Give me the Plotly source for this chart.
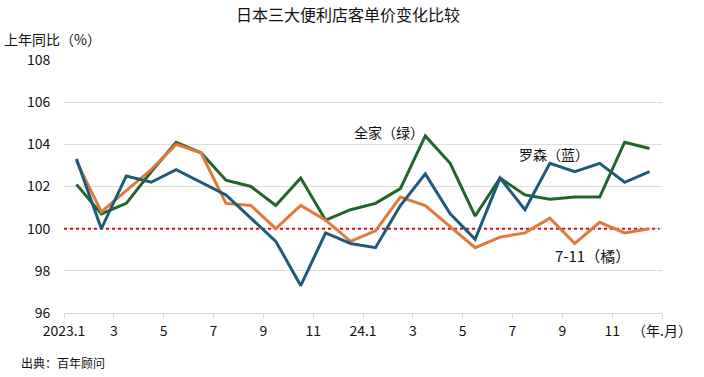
import plotly.graph_objects as go

months = ["2023.1","2023.2","2023.3","2023.4","2023.5","2023.6","2023.7","2023.8","2023.9","2023.10","2023.11","2023.12",
          "2024.1","2024.2","2024.3","2024.4","2024.5","2024.6","2024.7","2024.8","2024.9","2024.10","2024.11","2024.12"]
lawson = [103.3, 100.0, 102.5, 102.2, 102.8, 102.2, 101.6, 100.5, 99.4, 97.3, 99.8, 99.3,
          99.1, 101.1, 102.6, 100.7, 99.5, 102.4, 100.9, 103.1, 102.7, 103.1, 102.2, 102.7]
familymart = [102.1, 100.7, 101.2, 102.7, 104.1, 103.6, 102.3, 102.0, 101.1, 102.4, 100.4, 100.9,
              101.2, 101.9, 104.4, 103.1, 100.6, 102.4, 101.6, 101.4, 101.5, 101.5, 104.1, 103.8]
seven = [103.2, 100.8, 101.8, 102.8, 104.0, 103.6, 101.2, 101.1, 100.0, 101.1, 100.4, 99.4,
         99.9, 101.5, 101.1, 100.1, 99.1, 99.6, 99.8, 100.5, 99.3, 100.3, 99.8, 100.0]
tick_labels = ["2023.1", "3", "5", "7", "9", "11", "24.1", "3", "5", "7", "9", "11", "（年.月）"]
baseline = 100
y_ticks = [96, 98, 100, 102, 104, 106, 108]

# category positions: month i centred in its slot
xpos = [i + 0.5 for i in range(len(months))]
tickpos = [2 * k for k in range(len(tick_labels))]

FONT = "Noto Sans CJK SC"
fig = go.Figure()
fig.add_trace(go.Scatter(x=[0, len(months) - 0.1], y=[baseline, baseline], mode="lines", hoverinfo="skip",
                         line=dict(color="#d0101e", width=2, dash="dot")))
fig.add_trace(go.Scatter(x=xpos, y=familymart, mode="lines", name="全家",
                         line=dict(color="#21652a", width=3), customdata=months))
fig.add_trace(go.Scatter(x=xpos, y=seven, mode="lines", name="7-11",
                         line=dict(color="#e07a3c", width=3), customdata=months))
fig.add_trace(go.Scatter(x=xpos, y=lawson, mode="lines", name="罗森",
                         line=dict(color="#1e5b7a", width=3), customdata=months))

fig.update_layout(
    width=704, height=377,
    margin=dict(l=64, r=30, t=60, b=64),
    paper_bgcolor="white", plot_bgcolor="white",
    showlegend=False,
    font=dict(family=FONT, size=13, color="#111111"),
    xaxis=dict(range=[0, 24], tickvals=tickpos, ticktext=tick_labels,
               showgrid=False, zeroline=False, showline=True, linecolor="#d9d9d9", linewidth=1,
               ticks="outside", ticklen=5, tickcolor="#d9d9d9",
               tickfont=dict(family=FONT, size=14, color="#111111")),
    yaxis=dict(range=[96, 108], tickvals=y_ticks, showgrid=True, gridcolor="#dcdcdc", gridwidth=1,
               zeroline=False, showline=False, ticks="outside", ticklen=10, tickcolor="rgba(0,0,0,0)",
               tickfont=dict(family=FONT, size=14, color="#111111")),
    annotations=[
        dict(text="日本三大便利店客单价变化比较", xref="paper", yref="paper", x=0.475, y=1,
             yshift=46, showarrow=False, xanchor="center", yanchor="middle",
             font=dict(family=FONT, size=16, color="#111111")),
        dict(text="上年同比（%）", xref="paper", yref="paper", x=0, y=1, xshift=-62, yshift=21,
             showarrow=False, xanchor="left", yanchor="middle", font=dict(family=FONT, size=14)),
        dict(text="全家（绿）", xref="x", yref="y", x=xpos[13] - 0.45, y=104.6, showarrow=False,
             xanchor="center", yanchor="middle", font=dict(family=FONT, size=14)),
        dict(text="罗森（蓝）", xref="x", yref="y", x=xpos[20] - 0.85, y=103.55, showarrow=False,
             xanchor="center", yanchor="middle", font=dict(family=FONT, size=14)),
        dict(text="7-11（橘）", xref="x", yref="y", x=xpos[20] + 0.7, y=98.72, showarrow=False,
             xanchor="center", yanchor="middle", font=dict(family=FONT, size=15)),
        dict(text="出典：百年顾问", xref="paper", yref="paper", x=0, y=0, xshift=-45, yshift=-49,
             showarrow=False, xanchor="left", yanchor="middle", font=dict(family=FONT, size=12)),
    ],
)

fig.write_html("out.html", config={"displayModeBar": False},
               post_script="document.body.style.margin='0';document.body.style.padding='0';")
